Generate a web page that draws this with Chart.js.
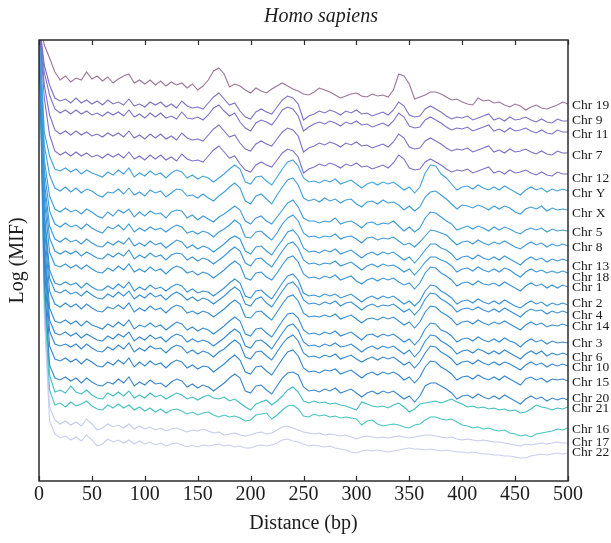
<!DOCTYPE html>
<html>
<head>
<meta charset="utf-8">
<script src="https://cdn.jsdelivr.net/npm/chart.js@4.4.1/dist/chart.umd.min.js"></script>
<style>
    html, body { margin: 0; padding: 0; background: #ffffff; }
    #wrap { width: 611px; height: 543px; }
</style>
</head>
<body>
<div id="wrap"><canvas id="chart" width="611" height="543"></canvas></div>
<script>
// Distance axis (bp)
const distance = [0,5,10,15,20,25,30,35,40,45,50,55,60,65,70,75,80,85,90,95,100,105,110,115,120,125,130,135,140,145,150,155,160,165,170,175,180,185,190,195,200,205,210,215,220,225,230,235,240,245,250,255,260,265,270,275,280,285,290,295,300,305,310,315,320,325,330,335,340,345,350,355,360,365,370,375,380,385,390,395,400,405,410,415,420,425,430,435,440,445,450,455,460,465,470,475,480,485,490,495,500];
const distanceTicks = [0,50,100,150,200,250,300,350,400,450,500];

// Log (MIF) per chromosome
const chr19 = [-0.20,-0.45,-0.58,-0.72,-0.80,-0.76,-0.82,-0.78,-0.80,-0.72,-0.79,-0.76,-0.81,-0.77,-0.83,-0.79,-0.76,-0.74,-0.83,-0.80,-0.84,-0.80,-0.85,-0.81,-0.86,-0.82,-0.85,-0.83,-0.88,-0.84,-0.90,-0.86,-0.80,-0.71,-0.68,-0.74,-0.87,-0.84,-0.86,-0.90,-0.93,-0.88,-0.91,-0.93,-0.89,-0.86,-0.83,-0.86,-0.89,-0.91,-0.94,-0.95,-0.92,-0.88,-0.90,-0.92,-0.95,-0.98,-0.96,-0.94,-0.93,-0.96,-0.97,-0.94,-0.96,-0.95,-0.97,-0.90,-0.74,-0.76,-0.84,-0.99,-0.97,-0.95,-0.92,-0.92,-0.94,-0.97,-1.00,-0.99,-1.02,-1.04,-1.05,-0.98,-1.01,-1.00,-1.03,-1.02,-1.05,-1.07,-1.04,-1.06,-1.10,-1.07,-1.05,-1.08,-1.09,-1.07,-1.05,-1.02,-1.04];
const chr9 = [-0.20,-0.65,-0.85,
    -0.98,-1.01,-0.99,-1.03,-0.98,-1.03,-1.00,-1.04,-1.01,-1.05,-1.00,-1.04,-1.02,-1.05,-0.99,-1.06,-1.04,-1.07,-1.02,-1.05,
    -1.02,-1.07,-1.04,-1.08,-1.01,-1.06,-1.08,-1.07,-1.09,-1.03,-0.97,-0.93,-0.99,-1.05,-1.03,-1.11,-1.17,-1.19,-1.12,-1.09,
    -1.12,-1.14,-1.07,-1.00,-0.96,-0.98,-1.04,-1.20,-1.16,-1.14,-1.11,-1.13,-1.10,-1.12,-1.15,-1.11,-1.13,-1.10,-1.14,-1.13,
    -1.16,-1.14,-1.12,-1.15,-1.10,-1.02,-1.06,-1.15,-1.17,-1.16,-1.09,-1.06,-1.09,-1.12,-1.16,-1.19,-1.17,-1.18,-1.16,-1.20,
    -1.18,-1.16,-1.14,-1.20,-1.18,-1.21,-1.17,-1.20,-1.19,-1.17,-1.20,-1.22,-1.19,-1.22,-1.23,-1.19,-1.21,-1.21];
const chr11 = [-0.20,-0.72,-0.95,
    -1.09,-1.13,-1.10,-1.14,-1.10,-1.14,-1.11,-1.15,-1.13,-1.16,-1.12,-1.15,-1.12,-1.16,-1.10,-1.17,-1.14,-1.18,-1.13,-1.17,
    -1.13,-1.18,-1.16,-1.19,-1.12,-1.18,-1.19,-1.17,-1.20,-1.15,-1.08,-1.05,-1.11,-1.16,-1.13,-1.22,-1.28,-1.31,-1.23,-1.20,
    -1.22,-1.25,-1.18,-1.10,-1.07,-1.09,-1.16,-1.31,-1.27,-1.24,-1.22,-1.24,-1.21,-1.23,-1.26,-1.22,-1.24,-1.21,-1.25,-1.24,
    -1.27,-1.25,-1.23,-1.26,-1.21,-1.13,-1.17,-1.26,-1.28,-1.27,-1.20,-1.17,-1.20,-1.23,-1.27,-1.30,-1.28,-1.29,-1.27,-1.31,
    -1.29,-1.27,-1.25,-1.31,-1.29,-1.32,-1.28,-1.31,-1.30,-1.28,-1.31,-1.33,-1.30,-1.33,-1.34,-1.30,-1.32,-1.32];
const chr7 = [-0.20,-0.85,-1.15,
    -1.30,-1.34,-1.31,-1.35,-1.31,-1.35,-1.32,-1.36,-1.34,-1.37,-1.33,-1.36,-1.33,-1.37,-1.31,-1.38,-1.35,-1.39,-1.34,-1.38,
    -1.34,-1.39,-1.36,-1.40,-1.33,-1.38,-1.40,-1.39,-1.41,-1.35,-1.29,-1.25,-1.31,-1.37,-1.35,-1.43,-1.49,-1.51,-1.44,-1.41,
    -1.44,-1.46,-1.39,-1.32,-1.28,-1.30,-1.36,-1.52,-1.48,-1.46,-1.43,-1.45,-1.42,-1.44,-1.47,-1.43,-1.45,-1.42,-1.46,-1.45,
    -1.48,-1.46,-1.44,-1.47,-1.42,-1.34,-1.38,-1.47,-1.49,-1.48,-1.41,-1.38,-1.41,-1.44,-1.48,-1.51,-1.49,-1.50,-1.48,-1.52,
    -1.50,-1.48,-1.46,-1.52,-1.50,-1.53,-1.49,-1.52,-1.51,-1.49,-1.52,-1.54,-1.51,-1.54,-1.55,-1.51,-1.53,-1.53];
const chr12 = [-0.20,-0.98,-1.35,
    -1.51,-1.55,-1.52,-1.56,-1.52,-1.56,-1.53,-1.57,-1.55,-1.58,-1.54,-1.57,-1.54,-1.58,-1.52,-1.59,-1.56,-1.60,-1.55,-1.59,
    -1.55,-1.60,-1.57,-1.61,-1.54,-1.59,-1.61,-1.60,-1.62,-1.56,-1.50,-1.46,-1.52,-1.58,-1.56,-1.64,-1.70,-1.72,-1.65,-1.62,
    -1.65,-1.67,-1.60,-1.53,-1.49,-1.51,-1.57,-1.73,-1.69,-1.67,-1.64,-1.66,-1.63,-1.65,-1.68,-1.64,-1.66,-1.63,-1.67,-1.66,
    -1.69,-1.67,-1.65,-1.68,-1.63,-1.55,-1.59,-1.68,-1.70,-1.69,-1.62,-1.59,-1.62,-1.65,-1.69,-1.72,-1.70,-1.71,-1.69,-1.73,
    -1.71,-1.69,-1.67,-1.73,-1.71,-1.74,-1.70,-1.73,-1.72,-1.70,-1.73,-1.75,-1.72,-1.75,-1.76,-1.72,-1.74,-1.74];
const chrY = [-0.20,-1.32,-1.56,
    -1.69,-1.71,-1.68,-1.72,-1.69,-1.74,-1.70,-1.73,-1.75,-1.77,-1.72,-1.75,-1.70,-1.74,-1.68,-1.77,-1.73,-1.76,-1.71,-1.75,
    -1.73,-1.78,-1.73,-1.70,-1.72,-1.78,-1.75,-1.79,-1.76,-1.78,-1.82,-1.78,-1.74,-1.69,-1.65,-1.69,-1.82,-1.84,-1.77,-1.76,
    -1.81,-1.85,-1.77,-1.69,-1.62,-1.60,-1.66,-1.78,-1.82,-1.81,-1.83,-1.80,-1.82,-1.79,-1.84,-1.82,-1.80,-1.84,-1.88,-1.84,
    -1.82,-1.85,-1.82,-1.84,-1.82,-1.86,-1.90,-1.87,-1.93,-1.87,-1.73,-1.65,-1.66,-1.74,-1.78,-1.84,-1.90,-1.87,-1.86,-1.89,
    -1.85,-1.88,-1.90,-1.87,-1.90,-1.86,-1.89,-1.92,-1.95,-1.90,-1.87,-1.90,-1.88,-1.92,-1.89,-1.91,-1.89,-1.91];
const chrX = [-0.20,-1.45,-1.75,
    -1.88,-1.91,-1.87,-1.92,-1.88,-1.93,-1.89,-1.91,-1.95,-1.97,-1.92,-1.93,-1.89,-1.94,-1.88,-1.95,-1.92,-1.96,-1.90,-1.93,
    -1.91,-1.97,-1.93,-1.89,-1.90,-1.96,-1.95,-1.98,-1.94,-1.98,-2.01,-1.96,-1.92,-1.87,-1.83,-1.88,-2.01,-2.04,-1.96,-1.94,
    -1.99,-2.04,-1.95,-1.87,-1.80,-1.78,-1.85,-1.98,-2.01,-1.99,-2.02,-1.98,-2.01,-1.99,-2.03,-2.00,-1.99,-2.04,-2.07,-2.02,
    -2.01,-2.04,-2.00,-2.03,-2.02,-2.05,-2.10,-2.06,-2.11,-2.07,-1.97,-1.92,-1.91,-1.95,-1.99,-2.04,-2.09,-2.05,-2.06,-2.08,
    -2.05,-2.07,-2.10,-2.06,-2.09,-2.06,-2.08,-2.12,-2.14,-2.09,-2.07,-2.09,-2.06,-2.11,-2.08,-2.10,-2.09,-2.10];
const chr5 = [-0.20,-1.60,-1.96,
    -2.09,-2.12,-2.08,-2.12,-2.10,-2.14,-2.09,-2.12,-2.16,-2.18,-2.12,-2.16,-2.10,-2.13,-2.09,-2.17,-2.12,-2.16,-2.11,-2.14,
    -2.13,-2.18,-2.12,-2.10,-2.11,-2.18,-2.15,-2.20,-2.16,-2.19,-2.22,-2.17,-2.14,-2.10,-2.06,-2.10,-2.21,-2.24,-2.18,-2.16,
    -2.21,-2.24,-2.17,-2.10,-2.03,-2.00,-2.07,-2.18,-2.21,-2.21,-2.23,-2.21,-2.22,-2.18,-2.24,-2.22,-2.21,-2.24,-2.28,-2.23,
    -2.22,-2.25,-2.23,-2.24,-2.21,-2.26,-2.31,-2.27,-2.32,-2.28,-2.18,-2.12,-2.13,-2.17,-2.21,-2.24,-2.30,-2.28,-2.26,-2.29,
    -2.26,-2.28,-2.31,-2.27,-2.30,-2.27,-2.29,-2.32,-2.34,-2.30,-2.28,-2.30,-2.28,-2.32,-2.29,-2.31,-2.30,-2.31];
const chr8 = [-0.20,-1.70,-2.11,
    -2.24,-2.27,-2.23,-2.27,-2.25,-2.29,-2.24,-2.28,-2.31,-2.33,-2.27,-2.29,-2.25,-2.30,-2.24,-2.32,-2.28,-2.31,-2.27,-2.30,
    -2.28,-2.32,-2.28,-2.25,-2.27,-2.33,-2.31,-2.34,-2.31,-2.33,-2.37,-2.32,-2.29,-2.25,-2.20,-2.24,-2.37,-2.38,-2.32,-2.31,
    -2.36,-2.40,-2.33,-2.24,-2.18,-2.15,-2.21,-2.33,-2.37,-2.36,-2.38,-2.36,-2.37,-2.34,-2.39,-2.37,-2.36,-2.39,-2.43,-2.38,
    -2.37,-2.40,-2.38,-2.39,-2.37,-2.41,-2.45,-2.43,-2.47,-2.42,-2.36,-2.30,-2.31,-2.33,-2.35,-2.40,-2.45,-2.42,-2.41,-2.44,
    -2.40,-2.43,-2.45,-2.42,-2.44,-2.41,-2.44,-2.47,-2.49,-2.45,-2.42,-2.45,-2.43,-2.47,-2.44,-2.46,-2.44,-2.46];
const chr13 = [-0.20,-1.81,-2.26,
    -2.39,-2.42,-2.38,-2.42,-2.40,-2.44,-2.39,-2.43,-2.46,-2.47,-2.42,-2.45,-2.41,-2.44,-2.38,-2.46,-2.43,-2.46,-2.41,-2.45,
    -2.43,-2.48,-2.44,-2.40,-2.42,-2.48,-2.45,-2.49,-2.46,-2.48,-2.52,-2.48,-2.44,-2.39,-2.36,-2.39,-2.51,-2.54,-2.47,-2.46,
    -2.51,-2.55,-2.47,-2.40,-2.32,-2.30,-2.36,-2.48,-2.52,-2.51,-2.53,-2.50,-2.52,-2.49,-2.54,-2.52,-2.50,-2.54,-2.58,-2.54,
    -2.52,-2.55,-2.52,-2.54,-2.52,-2.56,-2.60,-2.57,-2.63,-2.57,-2.50,-2.44,-2.44,-2.48,-2.50,-2.54,-2.60,-2.57,-2.56,-2.59,
    -2.55,-2.58,-2.60,-2.57,-2.60,-2.56,-2.59,-2.62,-2.65,-2.60,-2.57,-2.60,-2.58,-2.62,-2.59,-2.61,-2.59,-2.61];
const chr18 = [-0.20,-1.89,-2.38,
    -2.51,-2.54,-2.51,-2.54,-2.51,-2.56,-2.52,-2.55,-2.58,-2.59,-2.54,-2.57,-2.53,-2.56,-2.50,-2.59,-2.55,-2.58,-2.53,-2.57,
    -2.55,-2.60,-2.55,-2.53,-2.54,-2.60,-2.57,-2.61,-2.58,-2.60,-2.64,-2.60,-2.56,-2.51,-2.47,-2.51,-2.63,-2.66,-2.59,-2.58,
    -2.63,-2.67,-2.59,-2.51,-2.44,-2.42,-2.48,-2.60,-2.64,-2.63,-2.65,-2.63,-2.64,-2.61,-2.66,-2.64,-2.62,-2.66,-2.70,-2.66,
    -2.64,-2.67,-2.64,-2.66,-2.65,-2.68,-2.72,-2.69,-2.75,-2.69,-2.62,-2.57,-2.57,-2.60,-2.62,-2.66,-2.72,-2.69,-2.68,-2.71,
    -2.67,-2.70,-2.72,-2.69,-2.72,-2.68,-2.70,-2.74,-2.77,-2.72,-2.69,-2.72,-2.70,-2.73,-2.71,-2.73,-2.71,-2.73];
const chr1 = [-0.20,-1.99,-2.52,
    -2.65,-2.67,-2.64,-2.68,-2.65,-2.69,-2.65,-2.69,-2.72,-2.73,-2.68,-2.71,-2.66,-2.70,-2.64,-2.72,-2.69,-2.72,-2.67,-2.71,
    -2.69,-2.74,-2.69,-2.66,-2.68,-2.73,-2.71,-2.75,-2.72,-2.74,-2.78,-2.74,-2.70,-2.65,-2.61,-2.65,-2.78,-2.80,-2.73,-2.72,
    -2.77,-2.80,-2.73,-2.65,-2.58,-2.56,-2.62,-2.74,-2.78,-2.77,-2.79,-2.76,-2.78,-2.75,-2.80,-2.78,-2.76,-2.81,-2.84,-2.80,
    -2.78,-2.81,-2.78,-2.80,-2.78,-2.82,-2.85,-2.83,-2.89,-2.83,-2.73,-2.67,-2.68,-2.73,-2.76,-2.80,-2.86,-2.83,-2.82,-2.85,
    -2.81,-2.84,-2.85,-2.83,-2.86,-2.82,-2.85,-2.88,-2.91,-2.86,-2.83,-2.86,-2.84,-2.88,-2.85,-2.88,-2.85,-2.87];
const chr2 = [-0.20,-2.12,-2.70,
    -2.83,-2.85,-2.82,-2.85,-2.83,-2.88,-2.83,-2.87,-2.90,-2.90,-2.86,-2.89,-2.84,-2.88,-2.82,-2.91,-2.87,-2.90,-2.85,-2.89,
    -2.87,-2.91,-2.87,-2.84,-2.86,-2.92,-2.89,-2.93,-2.91,-2.92,-2.96,-2.92,-2.88,-2.83,-2.79,-2.83,-2.96,-2.98,-2.91,-2.90,
    -2.95,-2.99,-2.91,-2.83,-2.76,-2.74,-2.80,-2.93,-2.96,-2.95,-2.97,-2.94,-2.96,-2.94,-2.98,-2.96,-2.94,-2.98,-3.02,-2.98,
    -2.96,-2.99,-2.96,-2.98,-2.96,-3.00,-3.04,-3.01,-3.06,-3.01,-2.91,-2.85,-2.86,-2.91,-2.94,-2.98,-3.04,-3.01,-3.00,-3.03,
    -2.99,-3.02,-3.04,-3.01,-3.04,-3.00,-3.03,-3.06,-3.08,-3.04,-3.01,-3.04,-3.02,-3.06,-3.03,-3.05,-3.03,-3.05];
const chr4 = [-0.20,-2.17,-2.78,
    -2.91,-2.93,-2.90,-2.94,-2.92,-2.96,-2.91,-2.95,-2.98,-2.99,-2.94,-2.97,-2.92,-2.96,-2.91,-2.99,-2.95,-2.98,-2.93,-2.97,
    -2.95,-3.00,-2.95,-2.92,-2.95,-3.00,-2.97,-3.01,-2.98,-3.00,-3.04,-3.00,-2.96,-2.91,-2.87,-2.91,-3.04,-3.06,-2.99,-2.97,
    -3.03,-3.07,-2.99,-2.91,-2.84,-2.82,-2.88,-3.00,-3.04,-3.03,-3.05,-3.02,-3.04,-3.01,-3.06,-3.03,-3.02,-3.06,-3.10,-3.06,
    -3.04,-3.07,-3.05,-3.06,-3.04,-3.08,-3.12,-3.09,-3.15,-3.09,-2.99,-2.93,-2.94,-2.99,-3.02,-3.06,-3.12,-3.09,-3.08,-3.10,
    -3.07,-3.10,-3.12,-3.09,-3.12,-3.08,-3.11,-3.14,-3.17,-3.12,-3.09,-3.11,-3.10,-3.14,-3.11,-3.13,-3.11,-3.13];
const chr14 = [-0.20,-2.26,-2.91,
    -3.04,-3.07,-3.03,-3.07,-3.04,-3.09,-3.04,-3.08,-3.11,-3.12,-3.07,-3.09,-3.05,-3.09,-3.03,-3.12,-3.08,-3.11,-3.06,-3.10,
    -3.08,-3.13,-3.08,-3.05,-3.07,-3.13,-3.11,-3.14,-3.11,-3.13,-3.17,-3.13,-3.09,-3.04,-3.00,-3.04,-3.17,-3.18,-3.12,-3.11,
    -3.16,-3.20,-3.12,-3.04,-2.97,-2.95,-3.01,-3.13,-3.17,-3.16,-3.17,-3.15,-3.17,-3.14,-3.19,-3.17,-3.15,-3.19,-3.23,-3.19,
    -3.18,-3.20,-3.17,-3.19,-3.17,-3.21,-3.25,-3.22,-3.28,-3.22,-3.12,-3.06,-3.07,-3.12,-3.15,-3.19,-3.25,-3.22,-3.21,-3.24,
    -3.20,-3.23,-3.25,-3.22,-3.24,-3.21,-3.24,-3.27,-3.30,-3.25,-3.22,-3.25,-3.23,-3.27,-3.25,-3.26,-3.24,-3.26];
const chr3 = [-0.20,-2.38,-3.08,
    -3.21,-3.23,-3.20,-3.24,-3.21,-3.26,-3.21,-3.25,-3.27,-3.29,-3.24,-3.27,-3.22,-3.26,-3.20,-3.29,-3.25,-3.27,-3.23,-3.27,
    -3.25,-3.30,-3.26,-3.22,-3.24,-3.30,-3.27,-3.31,-3.28,-3.30,-3.34,-3.30,-3.26,-3.21,-3.17,-3.21,-3.34,-3.36,-3.29,-3.28,
    -3.33,-3.37,-3.29,-3.21,-3.14,-3.13,-3.18,-3.30,-3.34,-3.33,-3.35,-3.32,-3.34,-3.31,-3.36,-3.34,-3.32,-3.36,-3.40,-3.35,
    -3.34,-3.37,-3.34,-3.36,-3.34,-3.38,-3.42,-3.39,-3.45,-3.39,-3.29,-3.23,-3.24,-3.30,-3.32,-3.36,-3.42,-3.39,-3.38,-3.41,
    -3.37,-3.40,-3.42,-3.39,-3.42,-3.38,-3.41,-3.43,-3.47,-3.42,-3.39,-3.42,-3.40,-3.44,-3.41,-3.43,-3.42,-3.43];
const chr6 = [-0.20,-2.47,-3.20,
    -3.33,-3.35,-3.32,-3.36,-3.33,-3.38,-3.34,-3.37,-3.40,-3.41,-3.36,-3.39,-3.34,-3.37,-3.32,-3.41,-3.37,-3.40,-3.35,-3.39,
    -3.37,-3.42,-3.37,-3.34,-3.36,-3.42,-3.39,-3.42,-3.40,-3.42,-3.46,-3.42,-3.38,-3.33,-3.29,-3.33,-3.46,-3.48,-3.41,-3.40,
    -3.44,-3.49,-3.41,-3.33,-3.26,-3.24,-3.30,-3.42,-3.46,-3.45,-3.47,-3.44,-3.46,-3.43,-3.47,-3.46,-3.44,-3.48,-3.52,-3.48,
    -3.46,-3.49,-3.46,-3.48,-3.46,-3.50,-3.54,-3.50,-3.57,-3.51,-3.41,-3.35,-3.36,-3.41,-3.44,-3.48,-3.54,-3.51,-3.50,-3.53,
    -3.49,-3.51,-3.54,-3.51,-3.54,-3.50,-3.53,-3.56,-3.59,-3.54,-3.51,-3.54,-3.51,-3.56,-3.53,-3.55,-3.53,-3.55];
const chr10 = [-0.20,-2.54,-3.31,
    -3.44,-3.46,-3.44,-3.47,-3.44,-3.49,-3.44,-3.48,-3.51,-3.52,-3.47,-3.50,-3.45,-3.49,-3.43,-3.52,-3.48,-3.51,-3.46,-3.49,
    -3.48,-3.53,-3.48,-3.45,-3.47,-3.53,-3.50,-3.54,-3.51,-3.53,-3.57,-3.52,-3.49,-3.44,-3.40,-3.44,-3.57,-3.59,-3.52,-3.51,
    -3.56,-3.60,-3.52,-3.44,-3.38,-3.35,-3.41,-3.53,-3.57,-3.56,-3.58,-3.55,-3.57,-3.54,-3.59,-3.57,-3.55,-3.59,-3.62,-3.59,
    -3.57,-3.60,-3.57,-3.59,-3.57,-3.61,-3.65,-3.62,-3.68,-3.62,-3.53,-3.46,-3.47,-3.52,-3.55,-3.59,-3.65,-3.62,-3.61,-3.64,
    -3.60,-3.63,-3.65,-3.62,-3.65,-3.62,-3.64,-3.67,-3.70,-3.65,-3.62,-3.65,-3.63,-3.67,-3.64,-3.66,-3.64,-3.66];
const chr15 = [-0.20,-2.65,-3.46,
    -3.59,-3.61,-3.58,-3.62,-3.59,-3.64,-3.59,-3.62,-3.66,-3.67,-3.62,-3.65,-3.60,-3.64,-3.58,-3.67,-3.62,-3.66,-3.61,-3.65,
    -3.63,-3.68,-3.63,-3.60,-3.62,-3.68,-3.65,-3.69,-3.66,-3.67,-3.72,-3.68,-3.64,-3.59,-3.55,-3.60,-3.72,-3.74,-3.67,-3.66,
    -3.71,-3.75,-3.67,-3.59,-3.52,-3.50,-3.56,-3.68,-3.72,-3.71,-3.73,-3.70,-3.71,-3.69,-3.74,-3.72,-3.70,-3.74,-3.78,-3.74,
    -3.72,-3.75,-3.72,-3.74,-3.72,-3.75,-3.80,-3.77,-3.83,-3.77,-3.67,-3.61,-3.62,-3.67,-3.70,-3.74,-3.80,-3.77,-3.76,-3.79,
    -3.75,-3.78,-3.80,-3.77,-3.80,-3.76,-3.79,-3.82,-3.85,-3.79,-3.77,-3.80,-3.78,-3.82,-3.79,-3.80,-3.79,-3.81];
const chr20 = [-0.20,-2.78,-3.65,
    -3.78,-3.80,-3.77,-3.81,-3.78,-3.83,-3.78,-3.82,-3.85,-3.86,-3.82,-3.84,-3.79,-3.83,-3.77,-3.86,-3.82,-3.85,-3.80,-3.84,
    -3.83,-3.87,-3.82,-3.79,-3.81,-3.87,-3.84,-3.88,-3.85,-3.87,-3.91,-3.87,-3.83,-3.78,-3.74,-3.78,-3.91,-3.93,-3.86,-3.85,
    -3.90,-3.94,-3.86,-3.78,-3.73,-3.72,-3.75,-3.87,-3.91,-3.90,-3.92,-3.89,-3.91,-3.88,-3.93,-3.91,-3.89,-3.93,-3.97,-3.93,
    -3.91,-3.94,-3.91,-3.93,-3.91,-3.95,-3.99,-3.96,-4.02,-3.96,-3.86,-3.83,-3.83,-3.86,-3.89,-3.93,-3.99,-3.96,-3.95,-3.98,
    -3.94,-3.97,-3.99,-3.96,-3.99,-3.95,-3.98,-4.01,-4.04,-3.99,-3.96,-3.99,-3.97,-4.01,-3.98,-4.00,-3.98,-4.00];
const chr21 = [-0.20,-2.85,-3.75,
    -3.92,-3.90,-3.93,-3.86,-3.92,-3.94,-3.90,-3.95,-3.98,-3.99,-3.93,-3.96,-3.92,-3.96,-3.91,-3.98,-3.95,-3.98,-3.93,-3.97,
    -3.95,-3.99,-3.96,-3.93,-3.95,-3.99,-3.97,-4.00,-3.97,-3.95,-3.98,-3.99,-3.97,-4.01,-3.99,-4.03,-4.07,-4.10,-4.04,-4.02,
    -4.00,-4.05,-4.01,-3.96,-3.90,-3.87,-3.92,-4.01,-4.03,-4.01,-4.03,-4.02,-4.04,-4.03,-4.05,-4.06,-4.08,-4.10,-4.02,-4.04,
    -4.06,-4.07,-4.06,-4.08,-4.05,-4.03,-4.07,-4.12,-4.09,-4.04,-4.03,-4.02,-4.01,-4.03,-4.01,-3.99,-4.02,-4.04,-4.07,-4.06,
    -4.08,-4.07,-4.09,-4.08,-4.10,-4.09,-4.11,-4.10,-4.13,-4.12,-4.09,-4.05,-4.07,-4.08,-4.10,-4.08,-4.09,-4.07];
const chr16 = [-0.20,-2.96,-3.90,
    -4.05,-4.03,-4.07,-4.02,-4.06,-4.04,-4.01,-4.06,-4.09,-4.10,-4.05,-4.08,-4.04,-4.08,-4.05,-4.10,-4.07,-4.11,
    -4.08,-4.12,-4.09,-4.13,-4.10,-4.09,-4.11,-4.14,-4.12,-4.15,-4.13,-4.12,-4.15,-4.17,-4.15,-4.17,-4.16,-4.18,-4.21,-4.20,
    -4.15,-4.14,-4.13,-4.19,-4.15,-4.10,-4.06,-4.05,-4.09,-4.16,-4.17,-4.14,-4.16,-4.15,-4.17,-4.16,-4.18,-4.17,-4.18,-4.19,
    -4.25,-4.21,-4.20,-4.24,-4.26,-4.25,-4.24,-4.25,-4.27,-4.28,-4.25,-4.24,-4.20,-4.17,-4.17,-4.19,-4.20,-4.19,-4.22,-4.25,
    -4.26,-4.28,-4.27,-4.29,-4.28,-4.30,-4.31,-4.30,-4.33,-4.34,-4.36,-4.35,-4.37,-4.34,-4.33,-4.32,-4.31,-4.29,-4.30,-4.28];
const chr17 = [-0.20,-3.07,-4.07,
    -4.20,-4.24,-4.21,-4.25,-4.22,-4.26,-4.19,-4.24,-4.30,-4.28,-4.24,-4.27,-4.25,-4.28,-4.24,-4.29,-4.26,-4.29,
    -4.27,-4.30,-4.28,-4.31,-4.29,-4.28,-4.30,-4.32,-4.30,-4.31,-4.29,-4.31,-4.33,-4.32,-4.35,-4.34,-4.33,-4.35,-4.36,-4.35,
    -4.33,-4.32,-4.34,-4.33,-4.30,-4.27,-4.26,-4.28,-4.30,-4.32,-4.33,-4.34,-4.33,-4.35,-4.34,-4.35,-4.36,-4.35,-4.37,-4.39,
    -4.37,-4.36,-4.37,-4.38,-4.37,-4.38,-4.37,-4.36,-4.37,-4.38,-4.37,-4.36,-4.35,-4.35,-4.36,-4.37,-4.38,-4.37,-4.39,-4.40,
    -4.39,-4.40,-4.41,-4.40,-4.41,-4.42,-4.42,-4.43,-4.44,-4.45,-4.46,-4.44,-4.45,-4.44,-4.43,-4.44,-4.43,-4.42,-4.43,-4.43];
const chr22 = [-0.20,-3.17,-4.21,
    -4.34,-4.38,-4.36,-4.40,-4.37,-4.41,-4.35,-4.40,-4.46,-4.44,-4.39,-4.42,-4.40,-4.43,-4.40,-4.44,-4.41,-4.44,
    -4.42,-4.45,-4.43,-4.46,-4.44,-4.43,-4.45,-4.47,-4.45,-4.47,-4.45,-4.46,-4.45,-4.44,-4.46,-4.45,-4.47,-4.46,-4.48,-4.48,
    -4.46,-4.45,-4.46,-4.45,-4.43,-4.40,-4.39,-4.41,-4.42,-4.44,-4.46,-4.45,-4.46,-4.47,-4.46,-4.48,-4.49,-4.50,-4.52,-4.53,
    -4.51,-4.50,-4.51,-4.50,-4.51,-4.52,-4.51,-4.50,-4.49,-4.48,-4.49,-4.49,-4.50,-4.49,-4.50,-4.51,-4.50,-4.51,-4.52,-4.52,
    -4.53,-4.52,-4.53,-4.54,-4.54,-4.55,-4.55,-4.56,-4.56,-4.57,-4.58,-4.58,-4.56,-4.55,-4.54,-4.55,-4.54,-4.53,-4.54,-4.53];

// Series order, names and where each name sits on the right
const chrNames = ['Chr 19','Chr 9','Chr 11','Chr 7','Chr 12','Chr Y','Chr X','Chr 5','Chr 8','Chr 13','Chr 18','Chr 1',
                  'Chr 2','Chr 4','Chr 14','Chr 3','Chr 6','Chr 10','Chr 15','Chr 20','Chr 21','Chr 16','Chr 17','Chr 22'];
const chrValues = [chr19, chr9, chr11, chr7, chr12, chrY, chrX, chr5, chr8, chr13, chr18, chr1,
                   chr2, chr4, chr14, chr3, chr6, chr10, chr15, chr20, chr21, chr16, chr17, chr22];
const labelLevels = [-1.05,-1.20,-1.34,-1.55,-1.78,-1.93,-2.13,-2.32,-2.47,-2.66,-2.77,-2.87,
                     -3.03,-3.15,-3.26,-3.43,-3.57,-3.67,-3.82,-3.98,-4.08,-4.29,-4.42,-4.52];
const chrColors = ['#9a7597','#7c72c8','#7c72c8','#7b70c6','#7e70c8','#42a2dc','#3f9fdb','#3d9cd9','#3c9ad8','#3b98d7','#3a96d6','#3994d5',
                   '#3892d4','#3790d3','#368ed2','#358cd1','#348ad0','#3388cf','#3386ce','#3a86cc','#3fbec2','#48c3c4','#c4cbef','#c9cef1'];

const serif = '"Liberation Serif", "DejaVu Serif", serif';

// Frame, inward ticks, chromosome names and title
const decorations = {
    id: 'decorations',
    afterDatasetsDraw(chart) {
        const {ctx, chartArea: a, scales: {x, y}} = chart;
        ctx.save();
        ctx.strokeStyle = '#2b2b2b';
        ctx.lineWidth = 1.5;
        ctx.strokeRect(a.left, a.top, a.right - a.left, a.bottom - a.top);

        ctx.lineWidth = 1.2;
        ctx.beginPath();
        distanceTicks.forEach(t => {
            const px = Math.round(x.getPixelForValue(t)) + 0.5;
            ctx.moveTo(px, a.bottom);
            ctx.lineTo(px, a.bottom - 5);
            ctx.moveTo(px, a.top);
            ctx.lineTo(px, a.top + 5);
        });
        ctx.stroke();

        ctx.fillStyle = '#1c1c1c';
        ctx.font = '13.5px ' + serif;
        ctx.textAlign = 'left';
        ctx.textBaseline = 'middle';
        chrNames.forEach((name, i) => {
            ctx.fillText(name, a.right + 4, y.getPixelForValue(labelLevels[i]));
        });

        ctx.font = 'italic 20px ' + serif;
        ctx.textAlign = 'center';
        ctx.fillText('Homo sapiens', 321, 17);
        ctx.restore();
    }
};

const datasets = chrNames.map((name, i) => ({
    label: name,
    data: distance.map((d, k) => ({x: d, y: chrValues[i][k]})).filter(p => p.y !== undefined),
    borderColor: chrColors[i],
    borderWidth: 1.1,
    pointRadius: 0,
    tension: 0,
    fill: false
}));

new Chart(document.getElementById('chart'), {
    type: 'line',
    data: {datasets},
    options: {
        responsive: false,
        animation: false,
        layout: {padding: {top: 40, right: 43, bottom: 0, left: 0}},
        plugins: {
            legend: {display: false},
            tooltip: {enabled: false},
            title: {display: false}
        },
        scales: {
            x: {
                type: 'linear',
                min: 0,
                max: 500,
                grid: {display: false, drawTicks: false},
                border: {display: false},
                ticks: {
                    stepSize: 50,
                    padding: 2,
                    color: '#1c1c1c',
                    font: {family: serif, size: 20},
                    maxRotation: 0
                },
                title: {
                    display: true,
                    text: 'Distance (bp)',
                    color: '#1c1c1c',
                    font: {family: serif, size: 20},
                    padding: {top: 0, bottom: 7}
                },
                afterFit: s => { s.height = 62; }
            },
            y: {
                min: -4.81,
                max: -0.40,
                grid: {display: false, drawTicks: false},
                border: {display: false},
                ticks: {display: false},
                title: {
                    display: true,
                    text: 'Log (MIF)',
                    color: '#1c1c1c',
                    font: {family: serif, size: 20},
                    padding: {top: 6, bottom: 0}
                },
                afterFit: s => { s.width = 39; }
            }
        }
    },
    plugins: [decorations]
});
</script>
</body>
</html>
